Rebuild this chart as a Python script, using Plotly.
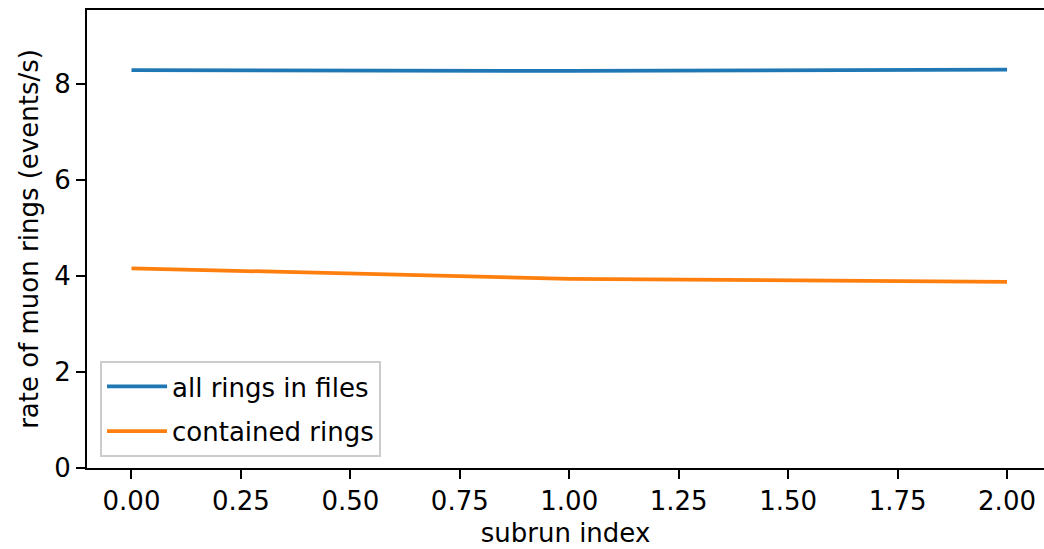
import plotly.graph_objects as go

subrun_index = [0, 1, 2]
all_rings = [8.29, 8.27, 8.30]
contained_rings = [4.16, 3.94, 3.875]
series_names = ["all rings in files", "contained rings"]
colors = ["#1f77b4", "#ff7f0e"]

FONT = "DejaVu Sans"
FS = 26

fig = go.Figure()
for name, vals, c in zip(series_names, [all_rings, contained_rings], colors):
    fig.add_trace(go.Scatter(x=subrun_index, y=vals, mode="lines", name=name,
                             legendgroup=name,
                             line=dict(color=c, width=3.75)))

axis_common = dict(showgrid=False, zeroline=False, showline=True, linecolor="black",
                   linewidth=2, ticks="outside", ticklen=9, tickwidth=2, tickcolor="black",
                   automargin=False,
                   tickfont=dict(family=FONT, size=FS, color="black"))

fig.update_layout(
    width=1044, height=549,
    margin=dict(l=87, r=0, t=10, b=81),
    plot_bgcolor="white", paper_bgcolor="white",
    font=dict(family=FONT, size=FS, color="black"),
    xaxis=dict(range=[-0.1016, 2.0845], tick0=0, dtick=0.25, tickformat=".2f",
               title=dict(text="subrun index", font=dict(family=FONT, size=FS), standoff=9),
               mirror=True, **axis_common),
    yaxis=dict(range=[0, 9.54], tick0=0, dtick=2,
               title=dict(text="rate of muon rings (events/s)", font=dict(family=FONT, size=FS), standoff=8),
               **axis_common),
    legend=dict(x=0.0136, y=0.024, xanchor="left", yanchor="bottom",
                bordercolor="#cccccc", borderwidth=2, bgcolor="rgba(255,255,255,0.8)",
                font=dict(family=FONT, size=FS), tracegroupgap=8, itemwidth=60),
    showlegend=True,
)

fig.write_html("out.html", config={"displayModeBar": False},
               post_script="document.body.style.margin='0';document.body.style.overflow='hidden';")
